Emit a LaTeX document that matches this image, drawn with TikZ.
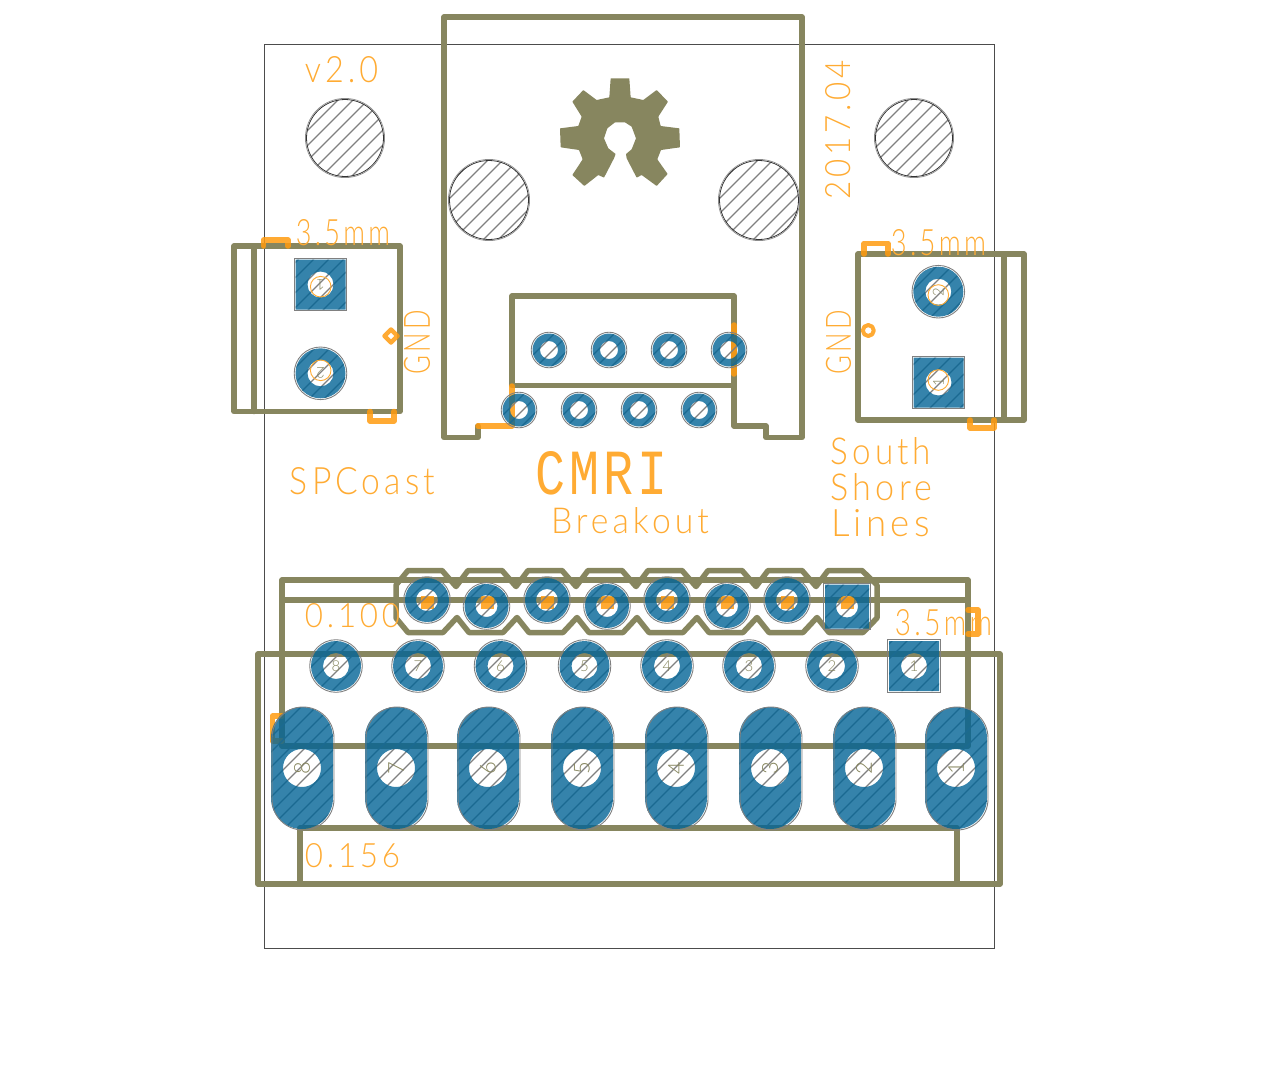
\documentclass[tikz,border=0pt]{standalone}
\usepackage{fontspec}
\usepackage{graphicx}
\newfontfamily\silkfont[LetterSpace=12]{Lato Light}
\newfontfamily\pinfont{Lato Light}
\newfontfamily\logofont[LetterSpace=8]{Liberation Mono}
\definecolor{silk}{HTML}{FF9B0F}
\definecolor{silklight}{HTML}{FFAB33}
\definecolor{olive}{HTML}{87865F}
\definecolor{padblue}{HTML}{026496}
\tikzset{
    outline/.style={draw=olive, line width=5.5pt, line cap=round, line join=round},
    marker/.style={draw=silk, draw opacity=.85, line width=5.5pt, line cap=round, line join=round},
    padfill/.style={fill=padblue, fill opacity=.8, even odd rule},
    padring/.style={draw=black!50, line width=.9pt},
    hatchline/.style={draw=black!50, line width=1.1pt},
    silktext/.style={text=silklight, inner sep=0pt},
    pinlabel/.style={text=olive, inner sep=0pt, font=\pinfont\fontsize{15}{15}\selectfont}
}
% label of given width and height
\newcommand{\silk}[3]{\resizebox{#1pt}{#2pt}{\silkfont #3}}
\begin{document}
\begin{tikzpicture}[x=1pt, y=-1pt]
    \useasboundingbox (0,0) rectangle (1262,1072);

    % Board edge
    \draw[black!70, line width=.8pt] (264.5,44.5) rectangle (994.5,948.5);

    % Jack housing
    \draw[outline] (478,426) -- (478,437.5) -- (444,437.5) -- (444,17) -- (802,17) -- (802,437.5)
        -- (766,437.5) -- (766,426) -- (734,426) -- (734,296) -- (512,296) -- (512,385.5) -- (734,385.5);

    % Left terminal
    \draw[outline] (234,246) rectangle (400,411.5);
    \draw[outline] (254,246) -- (254,411.5);

    % Right terminal
    \draw[outline] (858,254) rectangle (1024,420);
    \draw[outline] (1004,254) -- (1004,420);

    % Plug bodies
    \draw[outline] (282,580) rectangle (968,746);
    \draw[outline] (282,600) -- (968,600);
    \draw[outline] (258,654) rectangle (1000,884);
    \draw[outline] (300,884) -- (300,828) -- (957,828) -- (957,884);

    % Header outline
    \draw[outline] (396,585) -- (408,570.5)
        \foreach \k in {0,...,6} {
            -- ++(34,0) -- ++(14,16) -- ++(12,-16)
        } -- ++(34,0) -- (877,585) -- (877,618) -- (863,632.5)
        \foreach \k in {0,...,6} {
            -- ++(-34,0) -- ++(-12,-15) -- ++(-14,15)
        } -- (408,632.5) -- (396,618) -- cycle;

    % Gear
    \begin{scope}[shift={(530,60)}, x=.3333pt, y=-.3333pt]
        \fill[olive, rounded corners=.5pt] (242,55) -- (298,55) -- (302,112) -- (340,120) -- (380,90)
            -- (414,125) -- (385,170) -- (392,198) -- (448,205) -- (450,262) -- (393,270) -- (382,298)
            -- (413,342) -- (380,378) -- (335,345) -- (320,353) -- (290,295) -- (288,282) -- (305,268)
            -- (318,235) -- (305,200) -- (285,187) -- (255,187) -- (232,205) -- (222,235) -- (235,265)
            -- (257,282) -- (252,295) -- (222,353) -- (205,345) -- (163,378) -- (127,345) -- (158,298)
            -- (147,270) -- (92,262) -- (90,205) -- (145,198) -- (155,170) -- (127,125) -- (160,90)
            -- (200,120) -- (238,112) -- cycle;
    \end{scope}

    % Silk markers
    \draw[marker] (263.5,246) -- (263.5,240) -- (288,240) -- (288,246);
    \draw[marker] (370,411.5) -- (370,421) -- (394,421) -- (394,411.5);
    \draw[marker] (864,254) -- (864,243.5) -- (888,243.5) -- (888,254);
    \draw[marker] (970,420) -- (970,428) -- (994,428) -- (994,420);
    \draw[marker] (478,426) -- (512,426) -- (512,386);
    \draw[marker] (734,325) -- (734,374);
    \draw[marker] (282,716) -- (272.5,716) -- (272.5,741) -- (282,741);
    \draw[marker] (968,610) -- (978,610) -- (978,634) -- (968,634);
    \draw[marker, line width=4.5pt] (391,329.5) -- (397.5,336) -- (391,342.5) -- (384.5,336) -- cycle;
    \draw[marker, line width=4pt] (868.3,330.5) circle (5.5pt);
    \foreach \x in {427,487,547,607,667,727,787,847}
    {
        \fill[silk, fill opacity=.85] (\x-6.5,596) rectangle (\x+6.5,609);
    }

    % Hatching of holes and pads
    \begin{scope}
        \clip (345,138) circle (39pt) (914,138) circle (39pt) (489,200) circle (40pt) (759,200) circle (40pt)
            \foreach \x/\y/\r in {
                549/350/16.5, 609/350/16.5, 669/350/16.5, 729/350/16.5,
                519/410/16.5, 579/410/16.5, 639/410/16.5, 699/410/16.5,
                427/600/22, 486.5/606/22, 547/600/22, 607/606/22,
                667/600/22, 727/606/22, 787/600/22,
                320.5/373.3/25, 938.3/291.7/25,
                336/666/25, 418/666/25, 500.5/666/25, 584.5/666/25,
                667/666/25, 749/666/25, 832/666/25
            } { (\x,\y) circle (\r pt) }
            \foreach \x/\y/\r in {847/606.5/22, 320.5/284.5/25, 938.5/382.5/25, 914/666/25} {
                (\x-\r,\y-\r) rectangle (\x+\r,\y+\r)
            }
            \foreach \x in {302,396,488,582,676,770,864,956} {
                {[rounded corners=30.9pt] (\x-31,707) rectangle (\x+31,829)}
            };
        \foreach \k in {0,...,140}
        {
            \draw[hatchline] (\k*15+3,0) -- (0,\k*15+3);
        }
    \end{scope}

    % Round pads: x/y/outer/drill
    \foreach \x/\y/\r/\h in {
        549/350/16.5/9, 609/350/16.5/9, 669/350/16.5/9, 729/350/16.5/9,
        519/410/16.5/9, 579/410/16.5/9, 639/410/16.5/9, 699/410/16.5/9,
        427/600/22/11, 486.5/606/22/11, 547/600/22/11, 607/606/22/11,
        667/600/22/11, 727/606/22/11, 787/600/22/11,
        320.5/373.3/25/13, 938.3/291.7/25/13,
        336/666/25/13, 418/666/25/13, 500.5/666/25/13, 584.5/666/25/13,
        667/666/25/13, 749/666/25/13, 832/666/25/13
    }
    {
        \fill[padfill] (\x,\y) circle (\r pt) (\x,\y) circle (\h pt);
        \draw[padring] (\x,\y) circle ({\r+1.3pt});
    }

    % Square pads: x/y/half/drill
    \foreach \x/\y/\r/\h in {
        847/606.5/22/11, 320.5/284.5/25/13, 938.5/382.5/25/13, 914/666/25/13
    }
    {
        \fill[padfill] (\x-\r,\y-\r) rectangle (\x+\r,\y+\r) (\x,\y) circle (\h pt);
        \draw[padring] (\x-\r-1.3,\y-\r-1.3) rectangle (\x+\r+1.3,\y+\r+1.3);
    }

    % Long pads
    \foreach \x in {302,396,488,582,676,770,864,956}
    {
        \fill[padfill] {[rounded corners=30.9pt] (\x-31,707) rectangle (\x+31,829)} (\x,768) circle (19pt);
        \draw[padring, rounded corners=30.9pt] (\x-30,707) rectangle (\x+32,830);
    }

    % Mounting holes
    \foreach \x/\y/\r in {345/138/39, 914/138/39, 489/200/40, 759/200/40}
    {
        \draw[black!80, line width=.8pt] (\x,\y) circle ({\r-.5pt});
        \draw[black!45, line width=.7pt] (\x,\y) circle ({\r+.6pt});
    }

    % Pin rings
    \foreach \x/\y in {320.7/286.7, 320.7/370.3, 938.3/295, 938.3/380}
    {
        \draw[silklight, line width=.9pt] (\x,\y) circle (10.3pt);
    }

    % Pin numbers
    \node[pinlabel, rotate=180] (Left-1) at (320.5,284.5) {1};
    \node[pinlabel, rotate=180] (Left-2) at (320.5,373.3) {2};
    \node[pinlabel, rotate=90] (Right-1) at (938.5,381.7) {1};
    \node[pinlabel, rotate=90] (Right-2) at (938.3,291.7) {2};
    \foreach \x/\n in {914/1, 832/2, 749/3, 667/4, 584.5/5, 500.5/6, 418/7, 336/8}
    {
        \node[pinlabel] (Small-\n) at (\x,666) {\n};
    }
    \foreach \x/\n in {956/1, 864/2, 770/3, 676/4, 582/5, 488/6, 396/7, 302/8}
    {
        \node[pinlabel, rotate=90, font=\pinfont\fontsize{22}{22}\selectfont] (Large-\n) at (\x,768) {\n};
    }

    % Labels
    \node[silktext] (Version) at (341.5,70) {\silk{73}{26}{v2.0}};
    \node[silktext, rotate=90] (Date) at (838.5,129.5) {\silk{139}{25}{2017.04}};
    \node[silktext] (Size-L) at (343,233) {\silk{94}{26}{3.5mm}};
    \node[silktext] (Size-R) at (938.5,243) {\silk{95}{26}{3.5mm}};
    \node[silktext] (Size-P) at (943.5,623) {\silk{97}{26}{3.5mm}};
    \node[silktext, rotate=90] (Gnd-L) at (417,342) {\silk{64}{26}{GND}};
    \node[silktext, rotate=90] (Gnd-R) at (838.5,342) {\silk{64}{25}{GND}};
    \node[silktext] (Maker) at (362.5,481.5) {\silk{145}{27}{SPCoast}};
    \node[silktext] (Title) at (602,473.5) {\resizebox{132pt}{43pt}{\logofont CMRI}};
    \node[silktext] (Subtitle) at (630,521) {\silk{158}{26}{Breakout}};
    \node[silktext] (South) at (881,451.5) {\silk{100}{27}{South}};
    \node[silktext] (Shore) at (881.5,487.5) {\silk{101}{27}{Shore}};
    \node[silktext] (Lines) at (880.5,523.5) {\silk{99}{27}{Lines}};
    \node[silktext] (Pitch-S) at (352.5,616) {\silk{95}{24}{0.100}};
    \node[silktext] (Pitch-L) at (352.5,856) {\silk{95}{24}{0.156}};
\end{tikzpicture}
\end{document}
